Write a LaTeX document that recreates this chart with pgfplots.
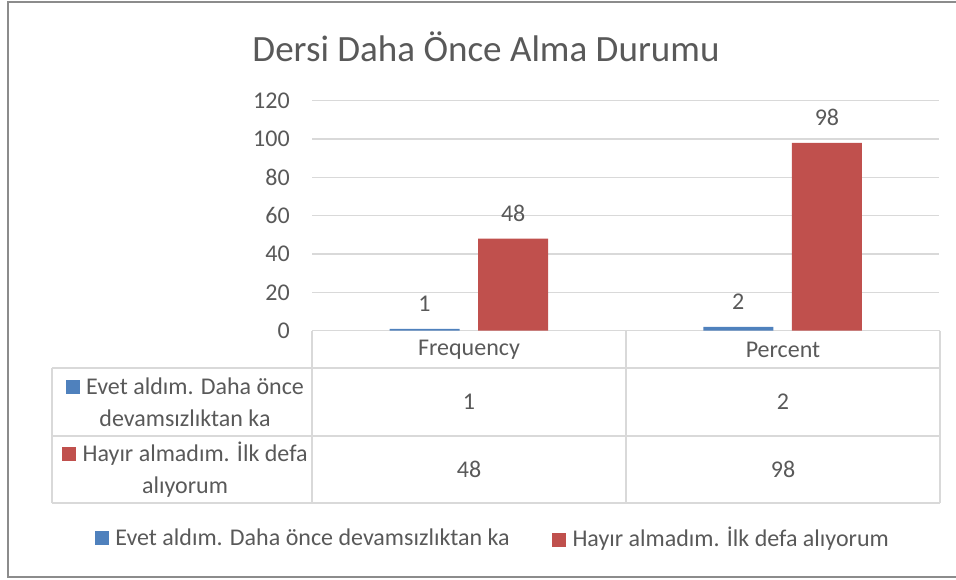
\documentclass[border=0pt]{standalone}
\usepackage{pgfplots}
\pgfplotsset{compat=1.18}
\usepackage{fontspec}
\setmainfont{Carlito}
\definecolor{sblue}{HTML}{4F81BD}
\definecolor{sred}{HTML}{C0504D}
\definecolor{txt}{HTML}{595959}
\definecolor{gridc}{HTML}{D9D9D9}
\definecolor{framec}{HTML}{8C8C8C}
\newcommand{\bodyfont}{\fontsize{18}{24}\selectfont}
\newcommand{\sq}[1]{\textcolor{#1}{\rule{10.5pt}{10.5pt}}\hspace{0.6pt} }

\begin{document}
\begin{tikzpicture}
\begin{scope}[x=0.75pt,y=-0.75pt]
\useasboundingbox (0,0) rectangle (956,580);
\draw[framec, line width=1.5pt] (957,2) -- (8,2) -- (8,577) -- (957,577);
\node[text=txt, font=\fontsize{27.8}{33}\selectfont] at (486,47) {Dersi Daha Önce Alma Durumu};
% data table grid
\draw[gridc, line width=0.9pt]
  (312,330.7) -- (940,330.7)
  (52,368) -- (940,368)
  (52,436) -- (940,436)
  (52,503) -- (940,503)
  (52,368) -- (52,503)
  (312,330.7) -- (312,503)
  (626,330.7) -- (626,503)
  (940,330.7) -- (940,503);
\node[text=txt, font=\bodyfont] at (469,350) {Frequency};
\node[text=txt, font=\bodyfont] at (783,350) {Percent};
\node[text=txt, font=\bodyfont, align=center] at (185,402)
  {\sq{sblue}Evet aldım. Daha önce\\devamsızlıktan ka};
\node[text=txt, font=\bodyfont, align=center] at (185,469.5)
  {\sq{sred}Hayır almadım. İlk defa\\alıyorum};
\node[text=txt, font=\bodyfont] at (469,402) {1};
\node[text=txt, font=\bodyfont] at (783,402) {2};
\node[text=txt, font=\bodyfont] at (469,469.5) {48};
\node[text=txt, font=\bodyfont] at (783,469.5) {98};
\end{scope}
\begin{axis}[
  at={(234pt,-248pt)}, anchor=south west,
  scale only axis,
  width=470.6pt, height=172.5pt,
  xmin=-0.5, xmax=1.5,
  ymin=0, ymax=120,
  ybar=14pt,
  bar width=52.5pt,
  xtick=\empty,
  ytick={0,20,...,120},
  major tick length=0pt,
  axis line style={draw=none},
  ymajorgrids,
  major grid style={gridc, line width=0.9pt},
  /pgf/number format/assume math mode=true,
  yticklabel style={font=\bodyfont, text=txt, anchor=east, inner sep=0pt, xshift=-16.5pt},
  clip=false,
  nodes near coords,
  every node near coord/.append style={font=\bodyfont, text=txt, anchor=south, inner sep=0pt, yshift=12.8pt},
  legend style={at={(0.2869,-0.9013)}, anchor=center, draw=none, fill=none,
    font=\bodyfont, text=txt, inner sep=0pt,
    /tikz/every even column/.append style={column sep=28pt}},
  legend columns=2,
]
\addplot[fill=sblue, draw=none, legend image code/.code={}]
  coordinates {(0,1) (1,2)};
\addlegendentry{\sq{sblue}Evet aldım. Daha önce devamsızlıktan ka}
\addplot[fill=sred, draw=none, legend image code/.code={}]
  coordinates {(0,48) (1,98)};
\addlegendentry{\sq{sred}Hayır almadım. İlk defa alıyorum}
\end{axis}
\end{tikzpicture}
\end{document}
